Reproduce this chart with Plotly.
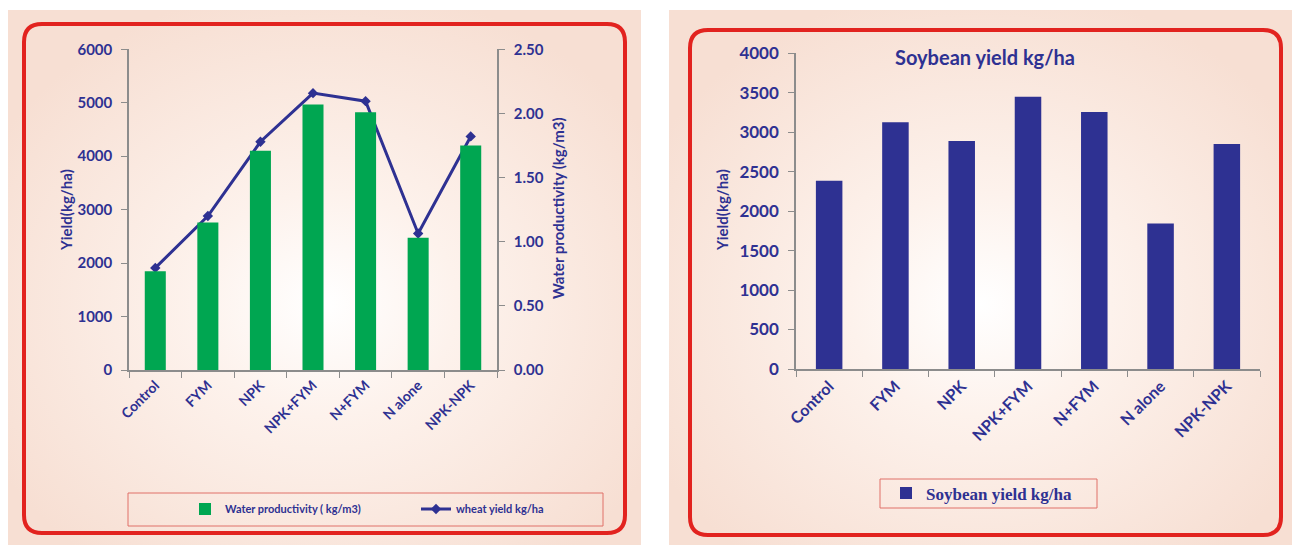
import base64
import plotly.graph_objects as go

# ---- data ----
treatments = ["Control", "FYM", "NPK", "NPK+FYM", "N+FYM", "N alone", "NPK-NPK"]
water_productivity = [0.77, 1.15, 1.71, 2.07, 2.01, 1.03, 1.75]      # kg/m3
wheat_yield = [1910, 2880, 4270, 5180, 5030, 2555, 4370]             # kg/ha
soybean_yield = [2385, 3125, 2890, 3450, 3255, 1845, 2850]           # kg/ha

W, H = 1292, 545
NAVY = "#2E3192"
GREEN = "#00A651"
RED = "#E2231F"
AXIS = "#8C8C8C"
FONT = "Lato"


def px(x):
    return x / W


def py(y):
    return 1 - y / H


def rounded_rect(x0, y0, x1, y1, r):
    """Closed path (paper coords) for a rectangle with rounded corners, given in pixels."""
    pts = [
        f"M{px(x0 + r)},{py(y0)}",
        f"L{px(x1 - r)},{py(y0)}",
        f"Q{px(x1)},{py(y0)} {px(x1)},{py(y0 + r)}",
        f"L{px(x1)},{py(y1 - r)}",
        f"Q{px(x1)},{py(y1)} {px(x1 - r)},{py(y1)}",
        f"L{px(x0 + r)},{py(y1)}",
        f"Q{px(x0)},{py(y1)} {px(x0)},{py(y1 - r)}",
        f"L{px(x0)},{py(y0 + r)}",
        f"Q{px(x0)},{py(y0)} {px(x0 + r)},{py(y0)}",
        "Z",
    ]
    return " ".join(pts)


def glow_background(w, h, cx="50%", cy="55%"):
    svg = (
        f"<svg xmlns='http://www.w3.org/2000/svg' width='{w}' height='{h}' "
        f"viewBox='0 0 {w} {h}' preserveAspectRatio='none'>"
        f"<defs><radialGradient id='g' cx='{cx}' cy='{cy}' r='60%'>"
        "<stop offset='0' stop-color='#FFFFFF'/>"
        "<stop offset='0.35' stop-color='#FDF2EC'/>"
        "<stop offset='1' stop-color='#F7DFD3'/>"
        "</radialGradient></defs>"
        f"<rect x='0' y='0' width='{w}' height='{h}' fill='url(#g)'/></svg>"
    )
    return "data:image/svg+xml;base64," + base64.b64encode(svg.encode()).decode()


fig = go.Figure()

# ---- left panel: wheat yield line over water productivity bars ----
fig.add_trace(go.Bar(
    x=treatments, y=water_productivity, name="Water productivity ( kg/m3)",
    marker=dict(color=GREEN, line=dict(width=0)),
    xaxis="x", yaxis="y2", legend="legend",
))
fig.add_trace(go.Scatter(
    x=treatments, y=wheat_yield, name="wheat yield kg/ha",
    mode="lines+markers",
    line=dict(color=NAVY, width=3),
    marker=dict(symbol="diamond", size=8, color=NAVY),
    xaxis="x", yaxis="y", legend="legend",
))

# ---- right panel: soybean yield ----
fig.add_trace(go.Bar(
    x=treatments, y=soybean_yield, name="Soybean yield kg/ha",
    marker=dict(color=NAVY, line=dict(width=0)),
    xaxis="x2", yaxis="y3", legend="legend2",
))

tick_font = dict(family=FONT, size=15, color=NAVY, weight="bold")
tick_font_r = dict(family=FONT, size=17, color=NAVY, weight="bold")

common_x = dict(
    type="category", showline=True, linecolor=AXIS, linewidth=1.5,
    ticks="outside", tickson="boundaries", ticklen=6, tickcolor=AXIS,
    tickangle=-45, showgrid=False, zeroline=False, automargin=False,
)
common_y = dict(
    showline=True, linecolor=AXIS, linewidth=1.5, ticks="outside",
    ticklen=6, tickcolor=AXIS, showgrid=False, zeroline=False,
    automargin=False,
)

fig.update_layout(
    width=W, height=H, autosize=False,
    margin=dict(l=0, r=0, t=0, b=0, pad=0),
    paper_bgcolor="white", plot_bgcolor="rgba(0,0,0,0)",
    bargap=0.6,
    xaxis=dict(common_x, domain=[px(129), px(497)], anchor="y",
               tickfont=dict(tick_font, size=14)),
    yaxis=dict(common_y, domain=[py(370), py(49.3)], anchor="x",
               range=[0, 6000], dtick=1000, tickfont=tick_font,
               ticklabelstandoff=6),
    yaxis2=dict(common_y, overlaying="y", side="right", anchor="x",
                range=[0, 2.5], dtick=0.5, tickformat=".2f",
                tickfont=tick_font, ticklabelstandoff=6),
    xaxis2=dict(common_x, domain=[px(796), px(1260)], anchor="y3",
                tickfont=dict(tick_font_r, size=16)),
    yaxis3=dict(common_y, domain=[py(369), py(53.3)], anchor="x2",
                range=[0, 4000], dtick=500, tickfont=tick_font_r,
                ticklabelstandoff=6),
    legend=dict(
        orientation="h", x=px(185), xanchor="left", y=py(509), yanchor="middle",
        bgcolor="rgba(0,0,0,0)", borderwidth=0,
        font=dict(family=FONT, size=11, color=NAVY, weight="bold"),
        entrywidth=186, entrywidthmode="pixels", itemwidth=30,
        traceorder="normal",
    ),
    legend2=dict(
        orientation="h", x=px(886), xanchor="left", y=py(493.5), yanchor="middle",
        bgcolor="rgba(0,0,0,0)", borderwidth=0,
        font=dict(family="Liberation Serif", size=17, color=NAVY, weight="bold"),
        itemwidth=30,
    ),
)

# panel backgrounds
fig.add_layout_image(dict(
    source=glow_background(633, 535), xref="paper", yref="paper",
    x=px(8), y=py(10), sizex=px(641) - px(8), sizey=py(10) - py(545),
    xanchor="left", yanchor="top", sizing="stretch", layer="below",
))
fig.add_layout_image(dict(
    source=glow_background(623, 535), xref="paper", yref="paper",
    x=px(669), y=py(10), sizex=px(1292) - px(669), sizey=py(10) - py(545),
    xanchor="left", yanchor="top", sizing="stretch", layer="below",
))

# red rounded frames and legend boxes
fig.add_shape(type="path", path=rounded_rect(24, 24, 625, 533, 18),
              xref="paper", yref="paper", line=dict(color=RED, width=4), layer="below")
fig.add_shape(type="path", path=rounded_rect(690, 30, 1281, 535, 18),
              xref="paper", yref="paper", line=dict(color=RED, width=4), layer="below")
fig.add_shape(type="rect", xref="paper", yref="paper",
              x0=px(128), x1=px(603), y0=py(526), y1=py(493),
              line=dict(color="#E07068", width=1), layer="below")
fig.add_shape(type="rect", xref="paper", yref="paper",
              x0=px(880), x1=px(1097), y0=py(508), y1=py(479),
              line=dict(color="#E07068", width=1), layer="below")

# axis titles and chart title
title_font = dict(family=FONT, size=15, color=NAVY, weight="bold")
fig.add_annotation(text="Yield(kg/ha)", xref="paper", yref="paper",
                   x=px(66), y=py(210), textangle=-90, showarrow=False,
                   font=title_font, xanchor="center", yanchor="middle")
fig.add_annotation(text="Water productivity (kg/m3)", xref="paper", yref="paper",
                   x=px(558), y=py(208), textangle=-90, showarrow=False,
                   font=title_font, xanchor="center", yanchor="middle")
fig.add_annotation(text="Yield(kg/ha)", xref="paper", yref="paper",
                   x=px(722), y=py(210), textangle=-90, showarrow=False,
                   font=title_font, xanchor="center", yanchor="middle")
fig.add_annotation(text="Soybean yield kg/ha", xref="paper", yref="paper",
                   x=px(985), y=py(57), showarrow=False,
                   font=dict(family=FONT, size=20, color=NAVY, weight="bold"),
                   xanchor="center", yanchor="middle")

fig.write_html("out.html")
